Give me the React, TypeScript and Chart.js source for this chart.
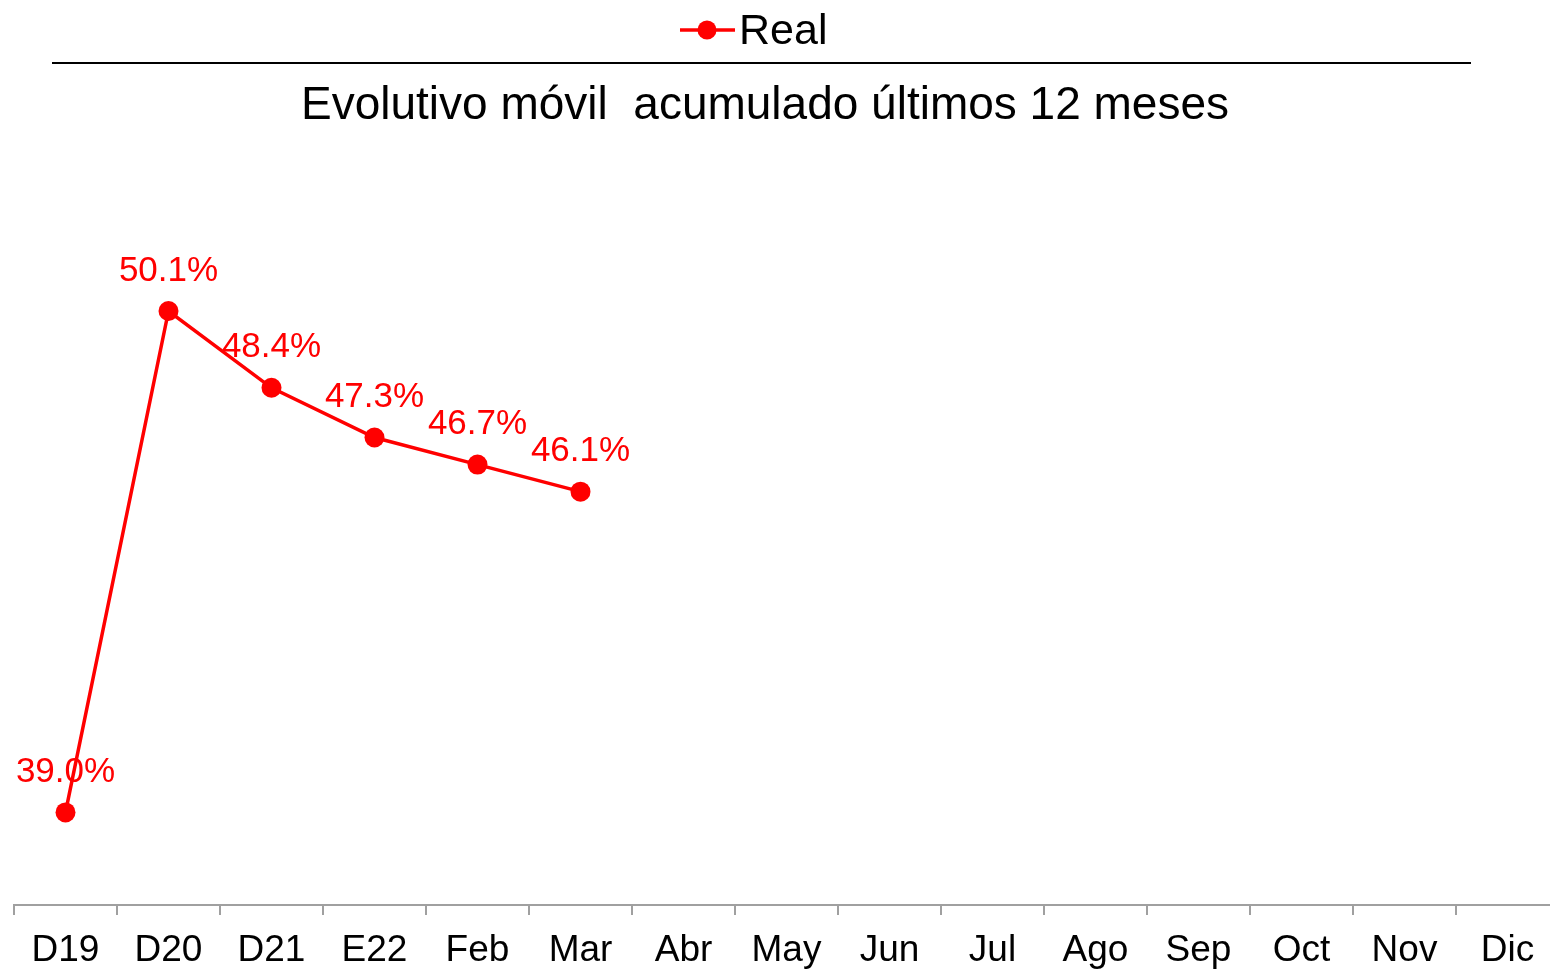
import React, { useEffect, useRef } from 'react';
import { Chart, registerables } from 'chart.js';

Chart.register(...registerables);

const categories = ['D19', 'D20', 'D21', 'E22', 'Feb', 'Mar', 'Abr', 'May', 'Jun', 'Jul', 'Ago', 'Sep', 'Oct', 'Nov', 'Dic'];
const realValues: (number | null)[] = [39.0, 50.1, 48.4, 47.3, 46.7, 46.1, null, null, null, null, null, null, null, null, null];
const seriesLabel = 'Real';
const titleText = 'Evolutivo móvil  acumulado últimos 12 meses';

const FONT = '"Liberation Sans", Arial, sans-serif';
const RED = '#ff0000';

export default function App() {
  const ref = useRef<HTMLCanvasElement>(null);

  useEffect(() => {
    document.body.style.margin = '0';
    document.body.style.overflow = 'hidden';
    const canvas = ref.current!;

    const deco = {
      id: 'deco',
      afterDraw(chart: any) {
        const ctx = chart.ctx as CanvasRenderingContext2D;
        ctx.save();
        // legend
        ctx.strokeStyle = RED;
        ctx.lineWidth = 3.5;
        ctx.beginPath();
        ctx.moveTo(680, 30);
        ctx.lineTo(735, 30);
        ctx.stroke();
        ctx.fillStyle = RED;
        ctx.beginPath();
        ctx.arc(707, 30, 9.5, 0, Math.PI * 2);
        ctx.fill();
        ctx.fillStyle = '#000';
        ctx.font = `43px ${FONT}`;
        ctx.textAlign = 'left';
        ctx.textBaseline = 'middle';
        ctx.fillText(seriesLabel, 739, 32);
        // separator
        ctx.strokeStyle = '#000';
        ctx.lineWidth = 2;
        ctx.beginPath();
        ctx.moveTo(52, 63);
        ctx.lineTo(1471, 63);
        ctx.stroke();
        // title
        ctx.font = `46px ${FONT}`;
        ctx.textAlign = 'center';
        ctx.fillText(titleText, 765, 106);
        // data labels
        const meta = chart.getDatasetMeta(0);
        ctx.fillStyle = RED;
        ctx.font = `35px ${FONT}`;
        ctx.textAlign = 'center';
        meta.data.forEach((pt: any, i: number) => {
          const v = realValues[i];
          if (v == null) return;
          ctx.fillText(v.toFixed(1) + '%', pt.x, pt.y - 40);
        });
        ctx.restore();
      },
    };

    const chart = new Chart(canvas, {
      type: 'line',
      data: {
        labels: categories,
        datasets: [
          {
            label: seriesLabel,
            data: realValues,
            borderColor: RED,
            backgroundColor: RED,
            borderWidth: 3.5,
            pointRadius: 10,
            pointBackgroundColor: RED,
            pointBorderColor: RED,
            pointBorderWidth: 0,
            tension: 0,
            spanGaps: false,
          },
        ],
      },
      options: {
        responsive: false,
        animation: false,
        layout: { autoPadding: false, padding: { left: 14, right: 1, top: 180, bottom: 0 } },
        plugins: {
          legend: { display: false },
          title: { display: false },
          tooltip: { enabled: false },
        },
        scales: {
          x: {
            offset: true,
            grid: {
              offset: true,
              drawOnChartArea: false,
              drawTicks: true,
              tickLength: 10,
              color: '#a0a0a0',
              lineWidth: 2,
            },
            border: { display: true, color: '#a0a0a0', width: 2 },
            ticks: {
              color: '#000',
              font: { family: FONT, size: 37 },
              padding: 14,
              maxRotation: 0,
              autoSkip: false,
            },
            afterFit: (scale: any) => {
              scale.height = 64;
              scale.paddingLeft = 0;
              scale.paddingRight = 0;
            },
          },
          y: {
            display: false,
            min: 36.95,
            max: 53.0,
          },
        },
      },
      plugins: [deco],
    });

    return () => chart.destroy();
  }, []);

  return (
    <div style={{ position: 'fixed', left: 0, top: 0, width: 1550, height: 969, overflow: 'hidden', background: '#fff' }}>
      <div style={{ width: 1560, height: 969 }}>
        <canvas ref={ref} width={1560} height={969} style={{ width: 1560, height: 969, display: 'block' }} />
      </div>
    </div>
  );
}
